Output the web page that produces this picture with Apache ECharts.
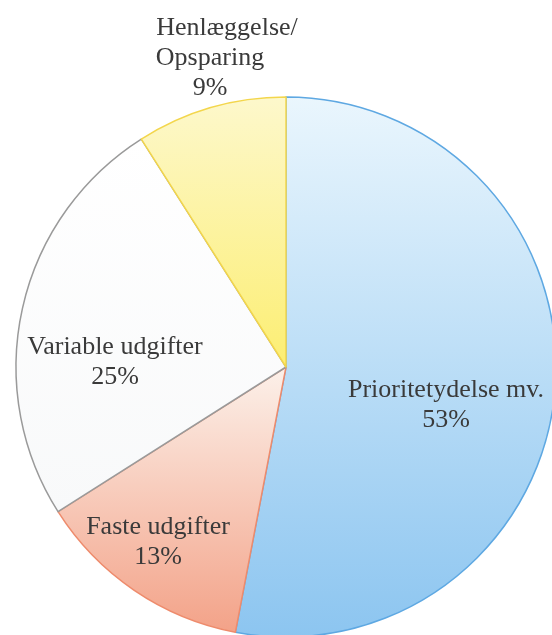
<!DOCTYPE html>
<html>
<head>
<meta charset="utf-8">
<script src="https://cdn.jsdelivr.net/npm/echarts@6/dist/echarts.min.js"></script>
<style>
html,body{margin:0;padding:0;background:#fff;}
#chart{width:552px;height:635px;}
</style>
</head>
<body>
<div id="chart"></div>
<script>
// Data
var categories = ['Prioritetydelse mv.', 'Faste udgifter', 'Variable udgifter', 'Henlæggelse/Opsparing'];
var shares = [53, 13, 25, 9];

// Styles (kept separate from data)
var fills = [
  ['#eaf6fd', '#8cc5f0'],
  ['#fcf1ea', '#f3a288'],
  ['#ffffff', '#f8f9fa'],
  ['#fdf8cc', '#fcee72']
];
var borders = ['#5ea8e2', '#ee8b6c', '#9a9a9a', '#f3d64c'];
var labelXY = [[446, 405], [158, 542], [115, 362], [210, 58]];

var chart = echarts.init(document.getElementById('chart'), null, {renderer: 'canvas'});

var seriesData = categories.map(function (name, i) {
  return {
    name: name,
    value: shares[i],
    itemStyle: {
      color: new echarts.graphic.LinearGradient(0, 0, 0, 1, [
        {offset: 0, color: fills[i][0]},
        {offset: 1, color: fills[i][1]}
      ]),
      borderColor: borders[i],
      borderWidth: 1.5
    }
  };
});

var FONT = '"Liberation Serif", "Times New Roman", serif';

chart.setOption({
  animation: false,
  backgroundColor: '#ffffff',
  series: [{
    type: 'pie',
    center: [286, 367],
    radius: 270,
    startAngle: 90,
    clockwise: true,
    avoidLabelOverlap: false,
    data: seriesData,
    label: {
      show: true,
      position: 'inside',
      fontFamily: FONT,
      fontSize: 26,
      lineHeight: 30,
      color: '#3a3a3a',
      align: 'center',
      formatter: function (p) {
        if (p.dataIndex === 3) {
          return '{a|Henlæggelse/}\nOpsparing\n' + p.value + '%';
        }
        return p.name + '\n' + p.value + '%';
      },
      rich: {
        a: {
          fontFamily: FONT,
          fontSize: 26,
          lineHeight: 30,
          color: '#3a3a3a',
          padding: [0, 0, 0, 34]
        }
      }
    },
    labelLine: {show: false},
    labelLayout: function (params) {
      var xy = labelXY[params.dataIndex];
      return {x: xy[0], y: xy[1], align: 'center', verticalAlign: 'middle'};
    },
    emphasis: {disabled: true}
  }]
});
</script>
</body>
</html>
